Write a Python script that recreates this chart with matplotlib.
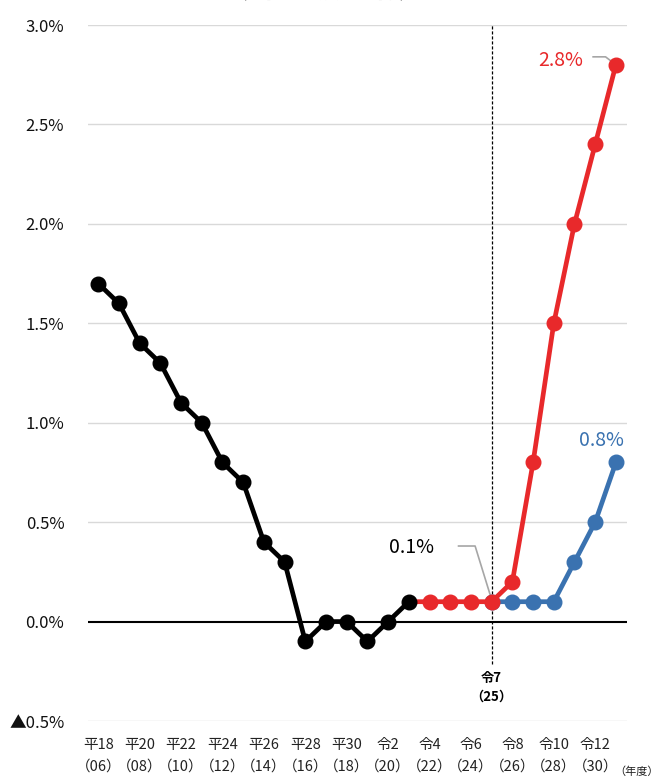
import matplotlib
matplotlib.use("Agg")
import matplotlib.pyplot as plt

plt.rcParams['font.family'] = ['Noto Sans CJK JP', 'DejaVu Sans']

# fiscal years
years_actual = list(range(2006, 2022))
rate_actual = [1.7, 1.6, 1.4, 1.3, 1.1, 1.0, 0.8, 0.7, 0.4, 0.3,
               -0.1, 0.0, 0.0, -0.1, 0.0, 0.1]

years_growth = list(range(2021, 2032))
rate_growth = [0.1, 0.1, 0.1, 0.1, 0.1, 0.2, 0.8, 1.5, 2.0, 2.4, 2.8]

years_base = list(range(2025, 2032))
rate_base = [0.1, 0.1, 0.1, 0.1, 0.3, 0.5, 0.8]

tick_years = list(range(2006, 2031, 2))
tick_labels = ["平18\n（06）", "平20\n（08）", "平22\n（10）", "平24\n（12）",
               "平26\n（14）", "平28\n（16）", "平30\n（18）", "令2\n（20）",
               "令4\n（22）", "令6\n（24）", "令8\n（26）", "令10\n（28）",
               "令12\n（30）"]
yticks = [-0.5, 0.0, 0.5, 1.0, 1.5, 2.0, 2.5, 3.0]
ytick_labels = ["▲0.5%", "0.0%", "0.5%", "1.0%", "1.5%", "2.0%", "2.5%", "3.0%"]

RED = '#e8292b'
BLUE = '#3a72b0'

fig = plt.figure(figsize=(6.61, 7.82), dpi=100)
ax = fig.add_axes([0.133, 0.078, 0.816, 0.890])

# grid
for y in yticks:
    if y == 0:
        ax.axhline(y, color='black', lw=1.5, zorder=1)
    else:
        ax.axhline(y, color='#d9d9d9', lw=1.0, zorder=0)

ax.vlines(2025, -0.215, 3.0, color='black', lw=0.9, ls=(0, (2.5, 1.5)), zorder=1)

ax.plot(years_base, rate_base, color=BLUE, lw=3.4, marker='o', ms=10.5, zorder=3)
ax.plot(years_growth, rate_growth, color=RED, lw=3.4, zorder=4)
ax.plot(years_growth[1:], rate_growth[1:], color=RED, lw=0, marker='o', ms=10.5, zorder=4)
ax.plot(years_actual, rate_actual, color='black', lw=3.4, marker='o', ms=10.5, zorder=5)

ax.set_xlim(2005.5, 2031.55)
ax.set_ylim(-0.5, 3.0)
ax.set_xticks(tick_years)
ax.set_xticklabels(tick_labels, fontsize=10.5, color='#222222', linespacing=1.75)
ax.set_yticks(yticks)
ax.set_yticklabels(ytick_labels, fontsize=12, color='#111111')
ax.tick_params(length=0, pad=17, axis='y')
ax.tick_params(length=0, pad=12, axis='x')
for s in ax.spines.values():
    s.set_visible(False)

# annotations
ax.text(2025, -0.33, "令7\n（25）", ha='center', va='center', fontsize=9.5,
        fontweight='bold', linespacing=1.45)
ax.text(2029.4, 2.82, "2.8%", color=RED, fontsize=14, ha='right', va='center')
ax.plot([2029.9, 2030.5, 2031], [2.84, 2.84, 2.8], color='#a6a6a6', lw=1.2, zorder=2)
ax.text(2031.4, 0.91, "0.8%", color=BLUE, fontsize=14, ha='right', va='center')
ax.text(2022.2, 0.375, "0.1%", color='black', fontsize=14, ha='right', va='center')
ax.plot([2023.4, 2024.2, 2025], [0.38, 0.38, 0.11], color='#a6a6a6', lw=1.2, zorder=2)
fig.text(0.997, 0.006, "（年度）", fontsize=8, ha='right', va='bottom', color='#222222')

fig.text(0.49, 0.995, "（名目長期金利）", fontsize=18, fontweight='bold',
         ha='center', va='bottom')

fig.savefig("out.png", dpi=100)
